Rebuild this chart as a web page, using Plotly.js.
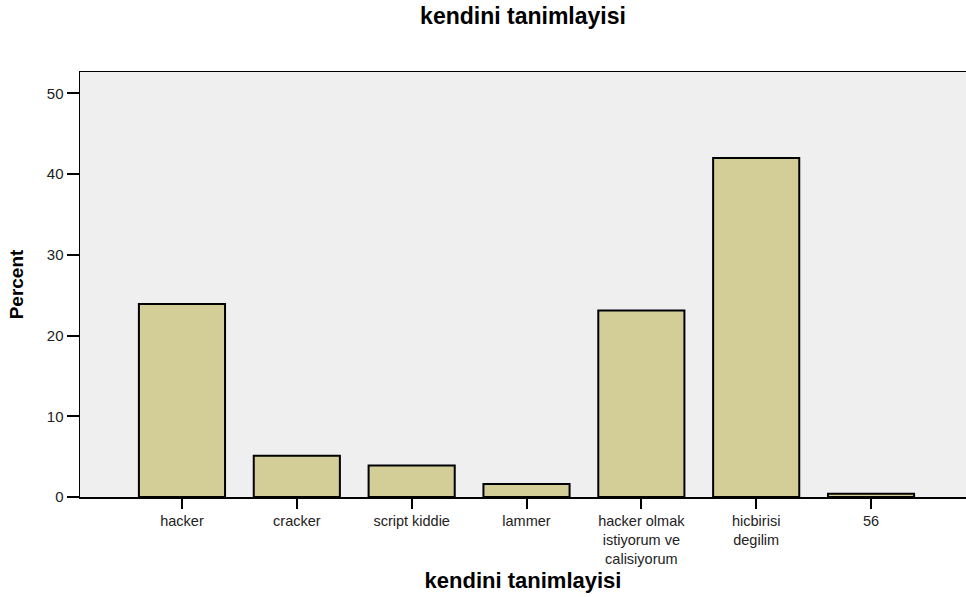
<!DOCTYPE html>
<html>
<head>
<meta charset="utf-8">
<script src="https://cdn.plot.ly/plotly-3.0.1.min.js"></script>
<style>html,body{margin:0;padding:0;background:#fff;}#chart{width:966px;height:597px;}</style>
</head>
<body>
<div id="chart"></div>
<script>
const categories = ["hacker", "cracker", "script kiddie", "lammer", "hacker olmak<br>istiyorum ve<br>calisiyorum", "hicbirisi<br>degilim", "56"];
const percentValues = [23.9, 5.1, 3.9, 1.6, 23.1, 42.0, 0.4];
const yTickValues = [0, 10, 20, 30, 40, 50];
const chartTitle = "kendini tanimlayisi";
const xTitle = "kendini tanimlayisi";
const yTitle = "Percent";

const trace = {
  type: "bar",
  x: categories.map((_, i) => i),
  y: percentValues,
  width: 0.75,
  marker: { color: "#D3CE98", line: { color: "#000000", width: 2 } },
  hoverinfo: "none"
};

const layout = {
  width: 966,
  height: 597,
  margin: { l: 80, r: 0, t: 72, b: 100 },
  paper_bgcolor: "#ffffff",
  plot_bgcolor: "#EFEFEF",
  font: { family: "Liberation Sans, Arial, sans-serif", color: "#222222" },
  showlegend: false,
  bargap: 0,
  title: {
    text: "<b>" + chartTitle + "</b>",
    font: { size: 23, color: "#000000", family: "Liberation Sans, Arial, sans-serif" },
    x: 0.5, xanchor: "center", xref: "paper",
    y: 1 - 16 / 597, yref: "container", yanchor: "middle"
  },
  xaxis: {
    range: [-0.888, 6.827],
    tickmode: "array",
    tickvals: categories.map((_, i) => i),
    ticktext: categories,
    ticks: "outside",
    ticklen: 10,
    tickwidth: 2,
    tickcolor: "#000000",
    tickfont: { size: 14.5, color: "#222222" },
    showline: true,
    linecolor: "#000000",
    linewidth: 1.5,
    mirror: true,
    showgrid: false,
    zeroline: false,
    fixedrange: true,
    automargin: false,
    title: {
      text: "<b>" + xTitle + "</b>",
      font: { size: 22, color: "#000000" },
      standoff: 7
    }
  },
  yaxis: {
    range: [0, 52.66],
    tickmode: "array",
    tickvals: yTickValues,
    ticktext: yTickValues.map(String),
    ticks: "outside",
    ticklen: 12,
    tickwidth: 2,
    tickcolor: "#000000",
    tickfont: { size: 15, color: "#222222" },
    showline: true,
    linecolor: "#000000",
    linewidth: 1.5,
    showgrid: false,
    zeroline: false,
    fixedrange: true,
    automargin: false,
    title: {
      text: "<b>" + yTitle + "</b>",
      font: { size: 19, color: "#000000" },
      standoff: 18
    }
  }
};

Plotly.newPlot("chart", [trace], layout, { staticPlot: true, displayModeBar: false });
</script>
</body>
</html>
